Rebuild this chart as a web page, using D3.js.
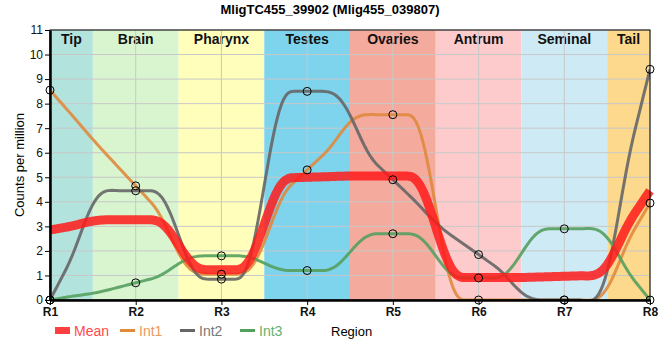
<!DOCTYPE html>
<html><head><meta charset="utf-8">
<script src="https://cdn.jsdelivr.net/npm/d3@7"></script>
<style>body{margin:0;background:#fff;} text{font-family:"Liberation Sans",Arial,sans-serif;}</style>
</head><body>
<svg id="c" width="660" height="360"></svg>
<script>
const regions = ["R1","R2","R3","R4","R5","R6","R7","R8"];
const tissues = ["Tip","Brain","Pharynx","Testes","Ovaries","Antrum","Seminal","Tail"];
const tissueColors = ["#b3e3dd","#d8f5d0","#ffffbb","#7dd4ec","#f4aa9d","#fdcbcb","#ceeaf4","#fdd98d"];
const int1 = [8.55, 4.65, 1.05, 5.3, 7.55, 0, 0, 3.95];
const int2 = [0, 4.45, 0.85, 8.5, 4.9, 1.85, 0, 9.4];
const int3 = [0, 0.7, 1.8, 1.2, 2.7, 0.9, 2.9, 0];
const yTicks = [0,1,2,3,4,5,6,7,8,9,10,11];
const title = "MligTC455_39902 (Mlig455_039807)";
const mean = regions.map((r,i)=>(int1[i]+int2[i]+int3[i])/3);

const series = [
  {name:"Int1", values:int1, color:"#e08a3e"},
  {name:"Int2", values:int2, color:"#666666"},
  {name:"Int3", values:int3, color:"#55a05e"}
];

const W=660,H=360, m={l:50,r:10,t:30,b:60};
const svg=d3.select("#c");
const x=d3.scalePoint().domain(regions).range([m.l,W-m.r]);
const xi=d3.scaleLinear().domain([0,regions.length-1]).range([m.l,W-m.r]);
const y=d3.scaleLinear().domain([0,11]).range([H-m.b,m.t]);

// smooth interpolation: monotone tangents, tangent lines blended with a smooth switch mid-segment
function tangents(v){
  const n=v.length, t=new Array(n).fill(0);
  for(let i=1;i<n-1;i++){
    const s0=v[i]-v[i-1], s1=v[i+1]-v[i], p=(s0+s1)/2;
    t[i]=(Math.sign(s0)+Math.sign(s1))*Math.min(Math.abs(s0),Math.abs(s1),0.5*Math.abs(p))||0;
  }
  t[0]=(3*(v[1]-v[0])-t[1])/2;
  t[n-1]=(3*(v[n-1]-v[n-2])-t[n-2])/2;
  return t;
}
const W_SWITCH=0.7;
function S(t){
  const u=Math.max(0,Math.min(1,(t-0.5)/W_SWITCH+0.5));
  return u*u*u*(u*(6*u-15)+10);
}
function samples(v){
  const tg=tangents(v), pts=[], N=40;
  for(let i=0;i<v.length-1;i++){
    for(let k=(i===0?0:1);k<=N;k++){
      const t=k/N, a=v[i]+tg[i]*t, b=v[i+1]-tg[i+1]*(1-t), s=S(t);
      pts.push([i+t,(1-s)*a+s*b]);
    }
  }
  return pts;
}

svg.append("defs").append("clipPath").attr("id","clip")
  .append("rect").attr("x",m.l).attr("y",m.t).attr("width",W-m.l-m.r).attr("height",H-m.t-m.b);

// bands
const bands=svg.append("g");
tissues.forEach((t,i)=>{
  const x0=Math.max(m.l, xi(i-0.5)), x1=Math.min(W-m.r, xi(i+0.5));
  bands.append("rect").attr("x",x0).attr("y",m.t).attr("width",x1-x0).attr("height",H-m.t-m.b).attr("fill",tissueColors[i]);
  bands.append("text").attr("x",(x0+x1)/2).attr("y",m.t+14).attr("text-anchor","middle")
    .attr("font-size","14px").attr("font-weight","bold").attr("fill","#111").text(t);
});

// grid
const grid=svg.append("g").attr("stroke","#c8c8c8").attr("stroke-width",1);
yTicks.forEach(v=>grid.append("line").attr("x1",m.l).attr("x2",W-m.r).attr("y1",y(v)).attr("y2",y(v)));
regions.forEach(r=>grid.append("line").attr("x1",x(r)).attr("x2",x(r)).attr("y1",m.t).attr("y2",H-m.b));

// lines
const line=d3.line().x(d=>xi(d[0])).y(d=>y(d[1]));
const lg=svg.append("g").attr("clip-path","url(#clip)");
series.forEach(s=>{
  lg.append("path").attr("d",line(samples(s.values))).attr("fill","none").attr("stroke",s.color)
    .attr("stroke-width",3).attr("stroke-opacity",0.9).attr("stroke-linejoin","round");
});
svg.append("path").attr("d",line(samples(mean))).attr("fill","none").attr("stroke","#ff1a1a")
  .attr("stroke-width",9).attr("stroke-opacity",0.85).attr("stroke-linejoin","round");

// frame
svg.append("rect").attr("x",m.l).attr("y",m.t).attr("width",W-m.l-m.r).attr("height",H-m.t-m.b)
  .attr("fill","none").attr("stroke","#000").attr("stroke-width",1);

// axes
const ya=svg.append("g").attr("transform",`translate(${m.l},0)`)
  .call(d3.axisLeft(y).tickValues(yTicks).tickSize(5).tickSizeOuter(0).tickPadding(2));
ya.select(".domain").attr("stroke-width",2.5);
ya.selectAll("text").attr("font-size","12px").attr("fill","#111").style("font-family","'Liberation Sans',Arial,sans-serif");
const xa=svg.append("g").attr("transform",`translate(0,${H-m.b})`)
  .call(d3.axisBottom(x).tickSize(5).tickSizeOuter(0).tickPadding(2));
xa.select(".domain").attr("stroke-width",2.5);
xa.selectAll("text").attr("font-size","12px").attr("font-weight","bold").attr("fill","#111").style("font-family","'Liberation Sans',Arial,sans-serif");

// points
const pg=svg.append("g");
series.forEach(s=>{
  s.values.forEach((v,i)=>{
    pg.append("circle").attr("cx",x(regions[i])).attr("cy",y(v)).attr("r",4)
      .attr("fill","none").attr("stroke","#000").attr("stroke-width",1);
  });
});

// title
svg.append("text").attr("x",330).attr("y",14).attr("text-anchor","middle")
  .attr("font-size","13px").attr("font-weight","bold").attr("fill","#000").text(title);
// y label
svg.append("text").attr("transform",`translate(24,${(m.t+H-m.b)/2}) rotate(-90)`)
  .attr("text-anchor","middle").attr("font-size","13px").attr("fill","#000").text("Counts per million");
// x label
svg.append("text").attr("x",331).attr("y",336).attr("font-size","13px").attr("fill","#000").text("Region");

// legend
const leg=svg.append("g");
leg.append("rect").attr("x",55).attr("y",327).attr("width",15).attr("height",7).attr("fill","#ff2a2a").attr("opacity",0.9);
leg.append("text").attr("x",74).attr("y",336).attr("font-size","14px").attr("fill","#ff4a4a").text("Mean");
const legX=[120,180,240], legTC=["#e89a5e","#777777","#66b070"];
series.forEach((s,i)=>{
  leg.append("line").attr("x1",legX[i]).attr("x2",legX[i]+15).attr("y1",330.5).attr("y2",330.5)
    .attr("stroke",s.color).attr("stroke-width",3);
  leg.append("text").attr("x",legX[i]+19).attr("y",336).attr("font-size","14px").attr("fill",legTC[i]).text(s.name);
});
</script>
</body></html>
